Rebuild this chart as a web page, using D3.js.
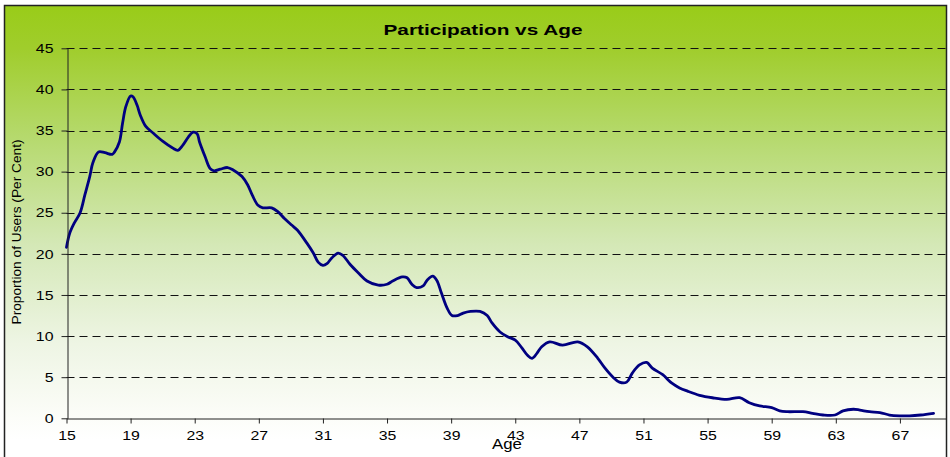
<!DOCTYPE html>
<html>
<head>
<meta charset="utf-8">
<script src="https://cdn.jsdelivr.net/npm/d3@7"></script>
<style>
  html, body { margin: 0; padding: 0; background: #fff; }
  svg { display: block; font-family: Arial, "Liberation Sans", sans-serif; }
</style>
</head>
<body>
<svg id="chart" width="950" height="457"></svg>
<script>
// ---- Data ----
const chartTitle = "Participation vs Age";
const xTitle = "Age";
const yTitle = "Proportion of Users (Per Cent)";
const ages = [
  15.0, 15.2, 15.5, 15.85, 16.15, 16.45, 16.65, 17.0, 17.4, 17.85, 18.0, 18.3, 18.5, 18.7, 19.0, 19.15, 19.4, 19.6, 19.95,
  20.4, 21.0, 21.6, 21.95, 22.25, 22.6, 22.9, 23.15, 23.3, 23.65, 23.95, 24.2, 24.6, 25.05, 25.4, 25.95, 26.3, 26.6, 26.95,
  27.25, 27.8, 28.2, 28.6, 29.05, 29.4, 30.0, 30.4, 30.7, 31.0, 31.25, 31.55, 31.95, 32.25, 32.7, 33.2, 33.75, 34.45,
  35.0, 35.35, 35.95, 36.25, 36.55, 36.85, 37.25, 37.5, 37.85, 38.1, 38.4, 38.75, 39.05, 39.4, 39.75, 40.2, 40.8,
  41.25, 41.55, 42.05, 42.55, 43.0, 43.4, 43.75, 44.05, 44.35, 44.65, 45.15, 45.95, 46.9, 47.5, 48.15, 48.6, 49.1,
  49.5, 49.95, 50.3, 50.75, 51.2, 51.55, 52.2, 52.75, 53.25, 53.75, 54.5, 55.3, 56.2, 57.0, 57.6, 58.25, 59.0, 59.5,
  60.0, 60.95, 61.55, 62.2, 62.95, 63.45, 64.1, 64.5, 65.1, 65.75, 66.35, 67.0, 67.6, 68.3, 69.1
];
const participation = [
  20.8, 22.5, 23.8, 25.0, 27.2, 29.4, 31.1, 32.4, 32.3, 32.1, 32.4, 33.6, 35.9, 37.9, 39.2, 39.1, 38.1, 36.9, 35.5,
  34.7, 33.7, 32.9, 32.6, 33.2, 34.2, 34.8, 34.6, 33.6, 31.8, 30.4, 30.1, 30.3, 30.5, 30.2, 29.4, 28.4, 27.1, 25.9,
  25.6, 25.6, 25.1, 24.3, 23.5, 22.9, 21.3, 20.1, 19.0, 18.6, 18.8, 19.5, 20.1, 19.8, 18.7, 17.7, 16.7, 16.2,
  16.3, 16.7, 17.2, 17.1, 16.3, 15.9, 16.1, 16.8, 17.3, 16.8, 15.2, 13.4, 12.5, 12.5, 12.8, 13.0, 13.0,
  12.5, 11.6, 10.5, 9.9, 9.5, 8.6, 7.7, 7.3, 7.9, 8.7, 9.3, 8.9, 9.3, 8.7, 7.3, 6.1, 5.0,
  4.4, 4.4, 5.5, 6.5, 6.8, 6.1, 5.3, 4.3, 3.7, 3.3, 2.8, 2.5, 2.3, 2.5, 1.9, 1.5, 1.3, 0.9,
  0.8, 0.8, 0.6, 0.4, 0.4, 0.9, 1.1, 1.0, 0.8, 0.7, 0.4, 0.3, 0.3, 0.4, 0.6
];
const xTickValues = [15, 19, 23, 27, 31, 35, 39, 43, 47, 51, 55, 59, 63, 67];
const yTickValues = [0, 5, 10, 15, 20, 25, 30, 35, 40, 45];

// ---- Layout ----
const svg = d3.select("#chart");
const plot = { left: 66.5, right: 948, top: 48.3, bottom: 418.3 };
const frame = { x: 4.5, y: 5.5, w: 942, h: 470 };

const defs = svg.append("defs");
const grad = defs.append("linearGradient")
  .attr("id", "bg").attr("gradientUnits", "userSpaceOnUse")
  .attr("x1", 0).attr("y1", 5).attr("x2", 0).attr("y2", 440);
[[0, "#99cc18"], [0.1, "#a0cd2c"], [0.3, "#b5d96c"], [0.55, "#d4e8b6"], [0.78, "#eef5e4"], [0.95, "#fcfdf9"], [1, "#ffffff"]]
  .forEach(([o, c]) => grad.append("stop").attr("offset", o).attr("stop-color", c));
defs.append("clipPath").attr("id", "frameClip")
  .append("rect").attr("x", frame.x).attr("y", frame.y).attr("width", frame.w).attr("height", frame.h);

svg.append("rect").attr("x", frame.x).attr("y", frame.y).attr("width", frame.w).attr("height", frame.h)
  .attr("fill", "url(#bg)");

const x = d3.scaleLinear().domain([15, 70]).range([plot.left, plot.right]);
const y = d3.scaleLinear().domain([0, 45]).range([plot.bottom, plot.top]);

const g = svg.append("g").attr("clip-path", "url(#frameClip)");

// gridlines
g.append("g").selectAll("line").data(yTickValues.filter(v => v > 0)).join("line")
  .attr("x1", plot.left).attr("x2", plot.right)
  .attr("y1", d => Math.round(y(d)) + 0.5).attr("y2", d => Math.round(y(d)) + 0.5)
  .attr("stroke", "#111").attr("stroke-width", 1).attr("stroke-dasharray", "8,5");

// line
const data = ages.map((a, i) => ({ age: a, v: participation[i] }));
const line = d3.line().x(d => x(d.age)).y(d => y(d.v)).curve(d3.curveCatmullRom.alpha(0.5));
g.append("path").datum(data).attr("d", line)
  .attr("fill", "none").attr("stroke", "#000080").attr("stroke-width", 2.8)
  .attr("stroke-linejoin", "round").attr("stroke-linecap", "round");

// x axis
const xAxis = d3.axisBottom(x).tickValues(xTickValues).tickSize(5).tickSizeOuter(0).tickPadding(4);
const gx = g.append("g").attr("transform", `translate(0,${Math.round(plot.bottom) + 0.5})`).call(xAxis);
gx.select(".domain").attr("stroke", "#222");
gx.selectAll(".tick line").attr("stroke", "#222");
gx.selectAll(".tick text").attr("font-size", 13).attr("fill", "#000")
  .attr("font-family", "Arial, 'Liberation Sans', sans-serif")
  .attr("transform", "scale(1.22,1)").attr("dy", "0.95em");

// y axis
const yAxis = d3.axisLeft(y).tickValues(yTickValues).tickSize(6).tickSizeOuter(0).tickPadding(0);
const gy = svg.append("g").attr("transform", `translate(${Math.round(plot.left) + 0.5},0)`).call(yAxis);
gy.select(".domain").attr("stroke", "#222");
gy.selectAll(".tick line").attr("stroke", "#222");
gy.selectAll(".tick text").attr("font-size", 13).attr("fill", "#000")
  .attr("font-family", "Arial, 'Liberation Sans', sans-serif")
  .attr("x", -11.5).attr("transform", "scale(1.22,1)");

// frame border
svg.append("rect").attr("x", frame.x).attr("y", frame.y).attr("width", frame.w).attr("height", frame.h)
  .attr("fill", "none").attr("stroke", "#222").attr("stroke-width", 1.5);

// titles
svg.append("text").attr("x", 483).attr("y", 35).attr("text-anchor", "middle")
  .attr("font-size", 15).attr("font-weight", "bold").attr("fill", "#000")
  .attr("textLength", 199).attr("lengthAdjust", "spacingAndGlyphs")
  .text(chartTitle);

svg.append("text").attr("transform", "translate(507,449) scale(1.2,1)").attr("text-anchor", "middle")
  .attr("font-size", 14).attr("fill", "#000").text(xTitle);

svg.append("text").attr("transform", "translate(21,232) rotate(-90)").attr("text-anchor", "middle")
  .attr("font-size", 12).attr("fill", "#000")
  .attr("textLength", 185).attr("lengthAdjust", "spacingAndGlyphs")
  .text(yTitle);
</script>
</body>
</html>
